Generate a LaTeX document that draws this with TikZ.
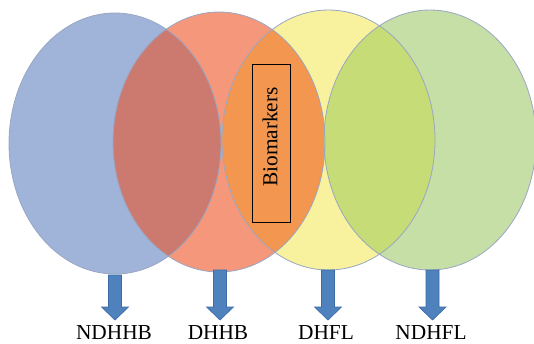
\documentclass[tikz,border=0pt]{standalone}
\usepackage{fontspec}
\setmainfont{Liberation Serif}
\definecolor{cblue}{HTML}{A0B4D9}
\definecolor{corange}{HTML}{F4977A}
\definecolor{cyellow}{HTML}{F8F29E}
\definecolor{cgreen}{HTML}{C6DFA6}
\definecolor{cbo}{HTML}{CC7A70}
\definecolor{coy}{HTML}{F3964F}
\definecolor{cyg}{HTML}{C6DC77}
\definecolor{cedge}{HTML}{9AA6C2}
\definecolor{carrow}{HTML}{4F81BD}
\definecolor{carrowedge}{HTML}{3B6CA8}
\newcommand{\myblockarrow}[2]{%
  \filldraw[blockarrow] (#1-6.5,#2) -- (#1+6.5,#2) -- (#1+6.5,307) -- (#1+13.5,307)
    -- (#1,320) -- (#1-13.5,307) -- (#1-6.5,307) -- cycle;}
\begin{document}
\begin{tikzpicture}[x=0.75pt,y=-0.75pt,
  outline/.style={draw=cedge, line width=0.6pt},
  blockarrow/.style={fill=carrow, draw=carrowedge, line width=0.5pt},
  lab/.style={anchor=base, font=\fontsize{16}{19}\selectfont, inner sep=0pt}]
\useasboundingbox (0,0) rectangle (534,343);
\def\ea{(115,143.5) ellipse [x radius=106, y radius=130.5]}
\def\eb{(219,142) ellipse [x radius=106, y radius=130]}
\def\ec{(328.5,140) ellipse [x radius=106.5, y radius=130]}
\def\ed{(430,140) ellipse [x radius=106, y radius=130]}
\fill[cblue] \ea;
\fill[corange] \eb;
\fill[cyellow] \ec;
\fill[cgreen] \ed;
\begin{scope}\clip \ea; \fill[cbo] \eb; \end{scope}
\begin{scope}\clip \eb; \fill[coy] \ec; \end{scope}
\begin{scope}\clip \ec; \fill[cyg] \ed; \end{scope}
\draw[outline] \ea;
\draw[outline] \eb;
\draw[outline] \ec;
\draw[outline] \ed;
\node[draw=black, line width=0.7pt, minimum width=28.5pt, minimum height=118.5pt,
  inner sep=0pt] (bio) at (271,143) {};
\node[rotate=90, inner sep=0pt, font=\fontsize{16}{19}\selectfont] (biotxt) at (270,137) {Biomarkers};
\myblockarrow{115}{275}
\myblockarrow{220}{270}
\myblockarrow{328}{270}
\myblockarrow{432.5}{270}
\node[lab] (l1) at (114,339) {NDHHB};
\node[lab] (l2) at (218,339) {DHHB};
\node[lab] (l3) at (326,339) {DHFL};
\node[lab] (l4) at (431,339) {NDHFL};
\end{tikzpicture}
\end{document}
